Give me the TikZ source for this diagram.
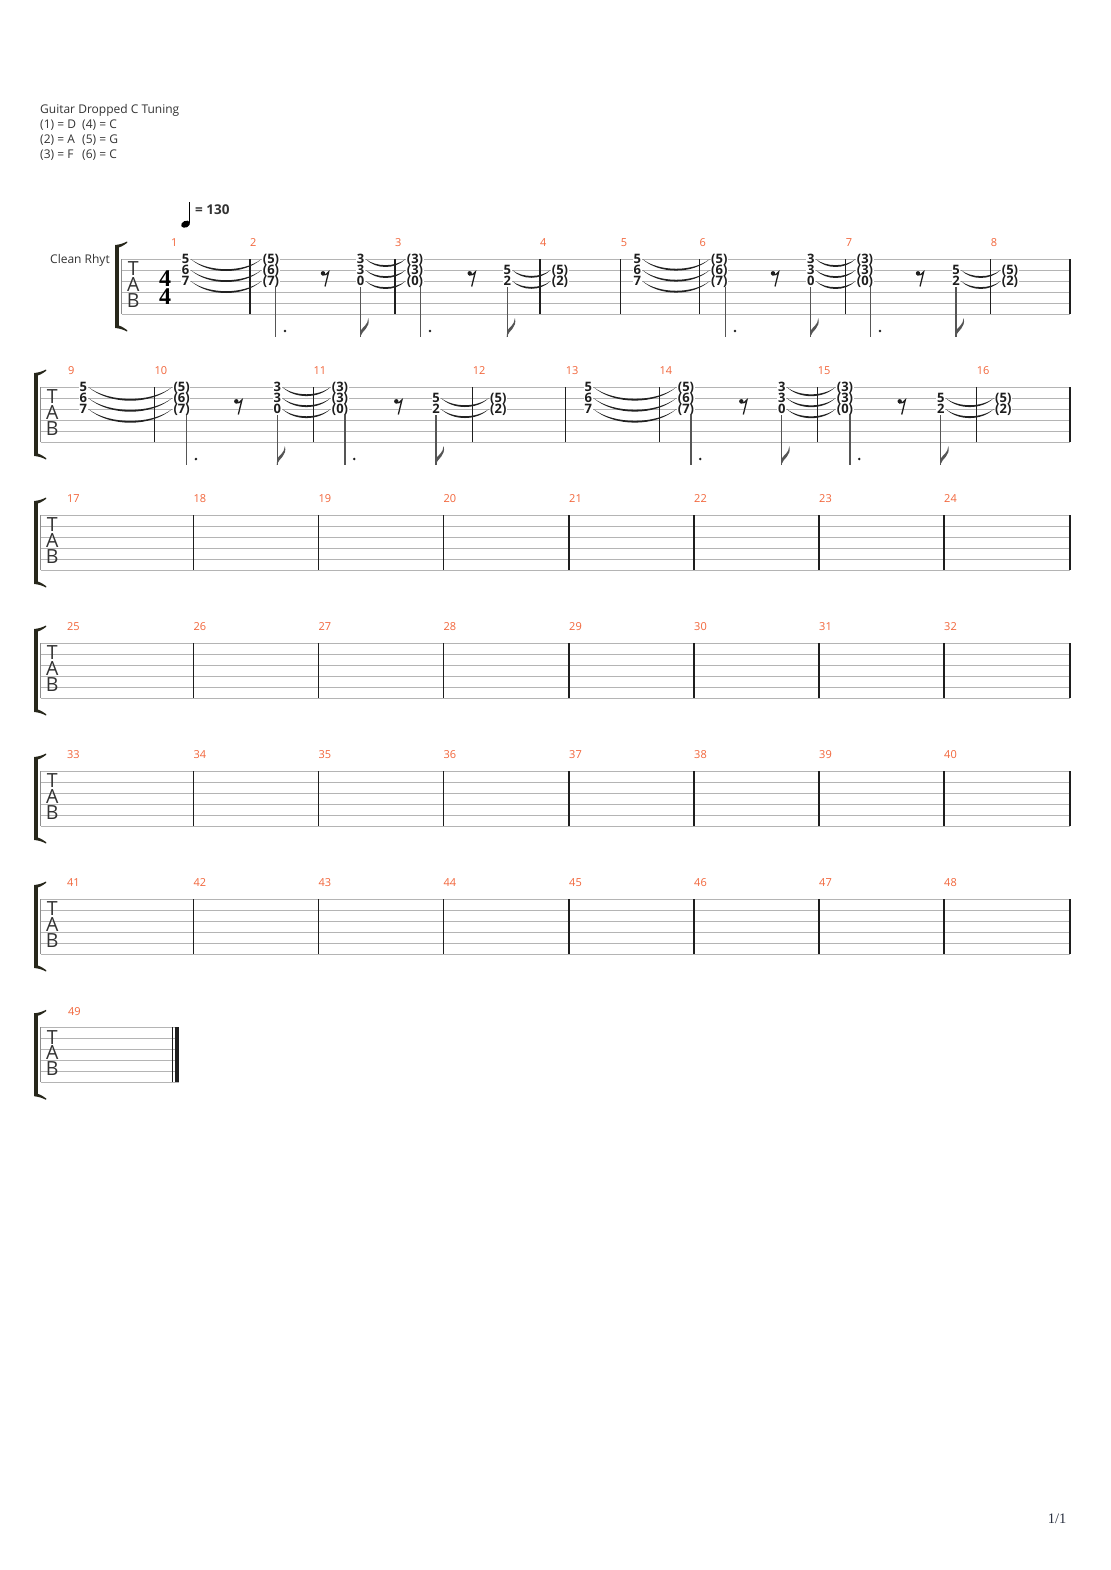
\documentclass[tikz,border=0pt]{standalone}
\usepackage{fontspec}
\setmainfont{Open Sans}
\newfontfamily\tsfont{Liberation Serif}
\definecolor{staffgray}{HTML}{B4B4B4}
\definecolor{edgegray}{HTML}{8C8C8C}
\definecolor{barcol}{HTML}{1E1E1E}
\definecolor{brcol}{HTML}{27271B}
\definecolor{numcol}{HTML}{F2653A}
\definecolor{digcol}{HTML}{1E1E1E}
\definecolor{stemcol}{HTML}{555555}
\definecolor{txtcol}{HTML}{333333}
\definecolor{tiecol}{HTML}{222222}
\definecolor{pgcol}{HTML}{2A3040}
\tikzset{
  staffline/.style={draw=staffgray, line width=0.9pt},
  staffedge/.style={draw=edgegray, line width=0.9pt},
  barline/.style={draw=barcol, line width=1.3pt},
  tabdigit/.style={font=\bfseries\fontsize{13}{13}\selectfont, text=digcol, fill=white,
     inner xsep=0.6pt, inner ysep=0pt, text height=9.2pt, text depth=0pt},
  mnum/.style={font=\fontsize{11}{11}\selectfont, text=numcol, inner sep=0pt, anchor=west},
  stemline/.style={draw=stemcol, line width=1.2pt},
  tabletter/.style={font=\fontsize{19.5}{19.5}\selectfont, text=txtcol, inner sep=0pt},
  hdr/.style={font=\fontsize{12}{12}\selectfont, text=txtcol, inner sep=0pt, anchor=base west},
}
\newcommand{\dig}[3]{\node[tabdigit] at ({#1},{#2}) {#3};}
\newcommand{\cA}[2]{\dig{#1}{#2}{5}\dig{#1}{#2+11}{6}\dig{#1}{#2+22}{7}}
\newcommand{\cAp}[2]{\dig{#1}{#2}{(5)}\dig{#1}{#2+11}{(6)}\dig{#1}{#2+22}{(7)}}
\newcommand{\cB}[2]{\dig{#1}{#2}{3}\dig{#1}{#2+11}{3}\dig{#1}{#2+22}{0}}
\newcommand{\cBp}[2]{\dig{#1}{#2}{(3)}\dig{#1}{#2+11}{(3)}\dig{#1}{#2+22}{(0)}}
\newcommand{\cC}[2]{\dig{#1}{#2+11}{5}\dig{#1}{#2+22}{2}}
\newcommand{\cCp}[2]{\dig{#1}{#2+11}{(5)}\dig{#1}{#2+22}{(2)}}
\newcommand{\tieit}[3]{%
  \pgfmathsetmacro{\ta}{#1+5}\pgfmathsetmacro{\tb}{#2-9.5}%
  \pgfmathsetmacro{\tL}{\tb-\ta}\pgfmathsetmacro{\td}{1.333*(0.13*\tL+2.8)}%
  \pgfmathsetmacro{\tq}{\tL/4}\pgfmathsetmacro{\te}{\td-2.4}%
  \fill[tiecol] ({\ta},{#3}) .. controls ({\ta+\tq},{#3+\td}) and ({\tb-\tq},{#3+\td}) .. ({\tb},{#3})
     .. controls ({\tb-\tq},{#3+\te}) and ({\ta+\tq},{#3+\te}) .. cycle;}
\newcommand{\tiesthree}[3]{\tieit{#1}{#2}{#3}\tieit{#1}{#2}{#3+11}\tieit{#1}{#2}{#3+22}}
\newcommand{\tiestwo}[3]{\tieit{#1}{#2}{#3+11}\tieit{#1}{#2}{#3+22}}
\newcommand{\stemdot}[2]{\draw[stemline] ({#1},{#2+28}) -- ({#1},{#2+78});
  \fill[barcol] ({#1+9.2},{#2+72}) circle (1.4pt);}
\newcommand{\stemflag}[2]{\draw[stemline] ({#1},{#2+28}) -- ({#1},{#2+78});
  \fill[stemcol] ({#1-0.6},{#2+78}) .. controls ({#1+1.5},{#2+71}) and ({#1+10},{#2+69}) .. ({#1+7.6},{#2+59})
     .. controls ({#1+7.2},{#2+66}) and ({#1+2},{#2+68}) .. ({#1},{#2+71.5}) -- cycle;}
\newcommand{\erest}[2]{%
  \fill[barcol] ({#1-2},{#2+14.3}) circle (2.2pt);
  \draw[barcol, line width=1.3pt] ({#1-2.6},{#2+15.9}) .. controls ({#1},{#2+16.8}) and ({#1+2},{#2+15}) .. ({#1+3.6},{#2+13}) -- ({#1},{#2+27.5});}
\newcommand{\barl}[2]{\draw[barline] ({#1},{#2}) -- ({#1},{#2+55});}
\newcommand{\brk}[2]{%
  \fill[brcol] ({#1-1.6},{#2-14}) rectangle ({#1+1.6},{#2+69});
  \fill[brcol] ({#1-1.6},{#2-14}) .. controls ({#1+3},{#2-14.5}) and ({#1+6},{#2-15.5}) .. ({#1+10},{#2-17.5})
     -- ({#1+10.3},{#2-16.3}) .. controls ({#1+6},{#2-13}) and ({#1+3},{#2-11.8}) .. ({#1+1.6},{#2-11.5}) -- cycle;
  \fill[brcol] ({#1-1.6},{#2+69}) .. controls ({#1+3},{#2+69.5}) and ({#1+6},{#2+70.5}) .. ({#1+10},{#2+72.5})
     -- ({#1+10.3},{#2+71.3}) .. controls ({#1+6},{#2+68}) and ({#1+3},{#2+66.8}) .. ({#1+1.6},{#2+66.5}) -- cycle;}
\newcommand{\staffsys}[3]{%
  \foreach \i in {0,...,5}{\draw[staffline] ({#1},{#3+11*\i}) -- ({#2},{#3+11*\i});}
  \draw[staffedge] ({#1},{#3}) -- ({#1},{#3+55});
  \node[tabletter] at ({#1+11.5},{#3+10}) {T};
  \node[tabletter] at ({#1+11.5},{#3+25.5}) {A};
  \node[tabletter] at ({#1+11.5},{#3+41.5}) {B};
  \brk{#1-4.7}{#3}}
\begin{document}
\begin{tikzpicture}[x=1pt,y=-1pt]
\fill[white] (0,0) rectangle (1110,1570);
\useasboundingbox (0,0) rectangle (1110,1570);
% header
\node[hdr] (title) at (40,113.5) {Guitar Dropped C Tuning};
\node[hdr] (t1) at (40,128.5) {(1) = D};
\node[hdr] (t4) at (82,128.5) {(4) = C};
\node[hdr] (t2) at (40,143.5) {(2) = A};
\node[hdr] (t5) at (82,143.5) {(5) = G};
\node[hdr] (t3) at (40,158.5) {(3) = F};
\node[hdr] (t6) at (82,158.5) {(6) = C};
% tempo
\fill[black] (185.6,224.2) ellipse [x radius=4.7pt, y radius=3.3pt, rotate=25];
\draw[black, line width=1pt] (189.9,223.5) -- (189.9,202.5);
\node[anchor=base west, font=\bfseries\fontsize{13.5}{13.5}\selectfont, text=txtcol, inner sep=0pt] (tempo) at (195,215) {= 130};
\node[anchor=base west, font=\fontsize{12}{12}\selectfont, text=txtcol, inner sep=0pt] (instr) at (50,263) {Clean Rhyt};
% ---------------- system 1
\staffsys{121.7}{1070}{259}
\node[font=\tsfont\bfseries\fontsize{24}{24}\selectfont, inner sep=0pt] (ts1) at (165,278.5) {4};
\node[font=\tsfont\bfseries\fontsize{24}{24}\selectfont, inner sep=0pt] (ts2) at (165,297) {4};
\foreach \bx/\n in {250/2,395/3,540/4,620.7/5,699.3/6,845.7/7,990.7/8}{\barl{\bx}{259}\node[mnum] at ({\bx},243) {\n};}
\barl{1070}{259}
\node[mnum] at (171,243) {1};
\cA{185.7}{259}\tiesthree{185.7}{271}{259}
\cAp{271}{259}\stemdot{275.7}{259}\erest{325}{259}
\cB{360.7}{259}\tiesthree{360.7}{415}{259}\stemflag{360.7}{259}
\cBp{415}{259}\stemdot{420.7}{259}\erest{471.7}{259}
\cC{507.3}{259}\tiestwo{507.3}{560}{259}\stemflag{507.3}{259}
\cCp{560}{259}
\cA{637.3}{259}\tiesthree{637.3}{719.3}{259}
\cAp{719.3}{259}\stemdot{725.7}{259}\erest{775}{259}
\cB{810.7}{259}\tiesthree{810.7}{865}{259}\stemflag{810.7}{259}
\cBp{865}{259}\stemdot{870.7}{259}\erest{920}{259}
\cC{956}{259}\tiestwo{956}{1010}{259}\stemflag{956}{259}
\cCp{1010}{259}
% ---------------- system 2
\staffsys{40.7}{1070}{387}
\foreach \bx/\n in {154.3/10,313.3/11,472.7/12,565.7/13,659.3/14,817.7/15,976.7/16}{\barl{\bx}{387}\node[mnum] at ({\bx},371) {\n};}
\barl{1070}{387}
\node[mnum] at (68,371) {9};
\cA{83.3}{387}\tiesthree{83.3}{181.7}{387}
\cAp{181.7}{387}\stemdot{186.7}{387}\erest{238.3}{387}
\cB{277.3}{387}\tiesthree{277.3}{340}{387}\stemflag{277.3}{387}
\cBp{340}{387}\stemdot{345}{387}\erest{398.3}{387}
\cC{436}{387}\tiestwo{436}{498.3}{387}\stemflag{436}{387}
\cCp{498.3}{387}
\cA{588.3}{387}\tiesthree{588.3}{686}{387}
\cAp{686}{387}\stemdot{691}{387}\erest{743.3}{387}
\cB{781.7}{387}\tiesthree{781.7}{845}{387}\stemflag{781.7}{387}
\cBp{845}{387}\stemdot{850}{387}\erest{901.7}{387}
\cC{940.7}{387}\tiestwo{940.7}{1003.3}{387}\stemflag{940.7}{387}
\cCp{1003.3}{387}
% ---------------- empty systems
\foreach \t/\n in {515/17,643/25,771/33,899/41}{
  \staffsys{40.7}{1070}{\t}
  \node[mnum] at (67,{\t-16}) {\n};
  \foreach \bx [count=\k] in {193.3,318.3,443.3,569,694,819,944}{
    \barl{\bx}{\t}
    \pgfmathtruncatemacro{\mm}{\n+\k}
    \node[mnum] at ({\bx},{\t-16}) {\mm};
  }
  \barl{1070}{\t}
}
% ---------------- last system
\staffsys{40.7}{178.5}{1027.3}
\node[mnum] at (68,1011.3) {49};
\draw[barcol, line width=1.2pt] (172.7,1027.3) -- (172.7,1082.3);
\draw[barcol, line width=3.6pt] (176.7,1027.3) -- (176.7,1082.3);
% page number
\node[font=\tsfont\fontsize{14.5}{14.5}\selectfont, text=pgcol, inner sep=0pt] (page) at (1057,1519) {1/1};
\end{tikzpicture}
\end{document}
